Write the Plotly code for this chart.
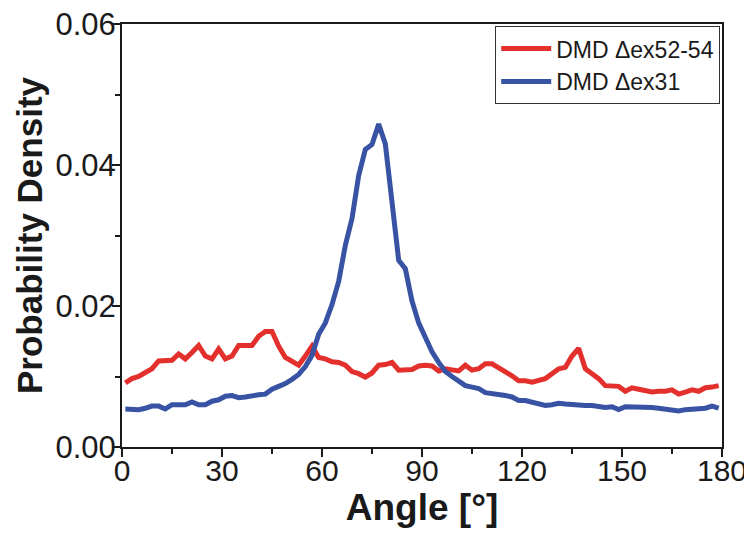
import plotly.graph_objects as go

angle = list(range(1, 180, 2))

red_ex52_54 = [
    0.0091, 0.0097, 0.0100, 0.0105, 0.0111, 0.0122, 0.0123, 0.0123, 0.0132, 0.0125,
    0.0134, 0.0144, 0.0129, 0.0125, 0.0139, 0.0125, 0.0129, 0.0144, 0.0144, 0.0144,
    0.0157, 0.0164, 0.0164, 0.0143, 0.0127, 0.0121, 0.0116, 0.0129, 0.0143, 0.0127,
    0.0125, 0.0121, 0.0120, 0.0116, 0.0107, 0.0104, 0.0099, 0.0105, 0.0116, 0.0117,
    0.0120, 0.0109, 0.0110, 0.0110, 0.0115, 0.0116, 0.0115, 0.0108, 0.0111, 0.0110,
    0.0108, 0.0116, 0.0109, 0.0111, 0.0118, 0.0118, 0.0113, 0.0108, 0.0101, 0.0094,
    0.0094, 0.0092, 0.0094, 0.0097, 0.0104, 0.0111, 0.0113, 0.0129, 0.0140, 0.0111,
    0.0104, 0.0097, 0.0087, 0.0087, 0.0086, 0.0079, 0.0084, 0.0082, 0.0080, 0.0078,
    0.0079, 0.0079, 0.0081, 0.0075, 0.0078, 0.0081, 0.0079, 0.0084, 0.0085, 0.0087,
]

blue_ex31 = [
    0.0054, 0.0054, 0.0053, 0.0055, 0.0058, 0.0058, 0.0054, 0.0060, 0.0060, 0.0060,
    0.0064, 0.0060, 0.0060, 0.0065, 0.0067, 0.0072, 0.0073, 0.0070, 0.0071, 0.0073,
    0.0074, 0.0075, 0.0082, 0.0086, 0.0090, 0.0096, 0.0103, 0.0114, 0.0130, 0.0160,
    0.0176, 0.0202, 0.0235, 0.0286, 0.0324, 0.0385, 0.0422, 0.0429, 0.0458, 0.0430,
    0.0352, 0.0265, 0.0253, 0.0207, 0.0176, 0.0155, 0.0135, 0.0120, 0.0107, 0.0100,
    0.0094, 0.0087, 0.0085, 0.0083, 0.0077, 0.0076, 0.0075, 0.0073, 0.0071, 0.0066,
    0.0066, 0.0064, 0.0061, 0.0059, 0.0060, 0.0062, 0.0061, 0.0060, 0.0059, 0.0059,
    0.0059, 0.0058, 0.0056, 0.0057, 0.0053, 0.0057, 0.0057, 0.0056, 0.0056, 0.0056,
    0.0055, 0.0054, 0.0053, 0.0051, 0.0053, 0.0054, 0.0054, 0.0055, 0.0058, 0.0055,
]

series_names = ["DMD \u0394ex52-54", "DMD \u0394ex31"]
x_ticks = [0, 30, 60, 90, 120, 150, 180]
y_ticks = [0.00, 0.02, 0.04, 0.06]
y_tick_labels = ["0.00", "0.02", "0.04", "0.06"]

FONT = "Liberation Sans, Arial, sans-serif"
INK = "#1a1a1a"

fig = go.Figure()
fig.add_trace(go.Scatter(x=angle, y=red_ex52_54, mode="lines", name=series_names[0],
                         line=dict(color="#e3302c", width=5)))
fig.add_trace(go.Scatter(x=angle, y=blue_ex31, mode="lines", name=series_names[1],
                         line=dict(color="#3953a4", width=5)))

axis_common = dict(
    showline=True, linecolor=INK, linewidth=2, mirror=True,
    ticks="outside", tickcolor=INK, tickwidth=2, ticklen=8,
    showgrid=False, zeroline=False, automargin=False,
    ticklabeloverflow="allow",
)

fig.update_xaxes(
    range=[0, 180], tickvals=x_ticks, ticklabelstandoff=-12,
    minor=dict(dtick=15, ticks="outside", ticklen=5, tickwidth=2, tickcolor=INK),
    tickfont=dict(family=FONT, size=30, color=INK),
    title=dict(text="<b>Angle [°]</b>", font=dict(family=FONT, size=37, color=INK), standoff=4),
    **axis_common,
)
fig.update_yaxes(
    range=[0, 0.06], tickvals=y_ticks, ticktext=y_tick_labels, ticklabelstandoff=-10,
    minor=dict(dtick=0.01, ticks="outside", ticklen=5, tickwidth=2, tickcolor=INK),
    tickfont=dict(family=FONT, size=31, color=INK),
    title=dict(text="<b>Probability Density</b>", font=dict(family=FONT, size=35, color=INK), standoff=2),
    **axis_common,
)

fig.update_layout(
    template="none",
    width=744, height=525,
    margin=dict(l=114, r=30, t=16, b=86),
    paper_bgcolor="white", plot_bgcolor="white",
    showlegend=True,
    legend=dict(
        x=0.997, y=0.995, xanchor="right", yanchor="top",
        bgcolor="white", bordercolor="#333333", borderwidth=1,
        font=dict(family=FONT, size=23, color=INK),
        itemwidth=50, tracegroupgap=0,
    ),
)

fig.write_html("out.html")
